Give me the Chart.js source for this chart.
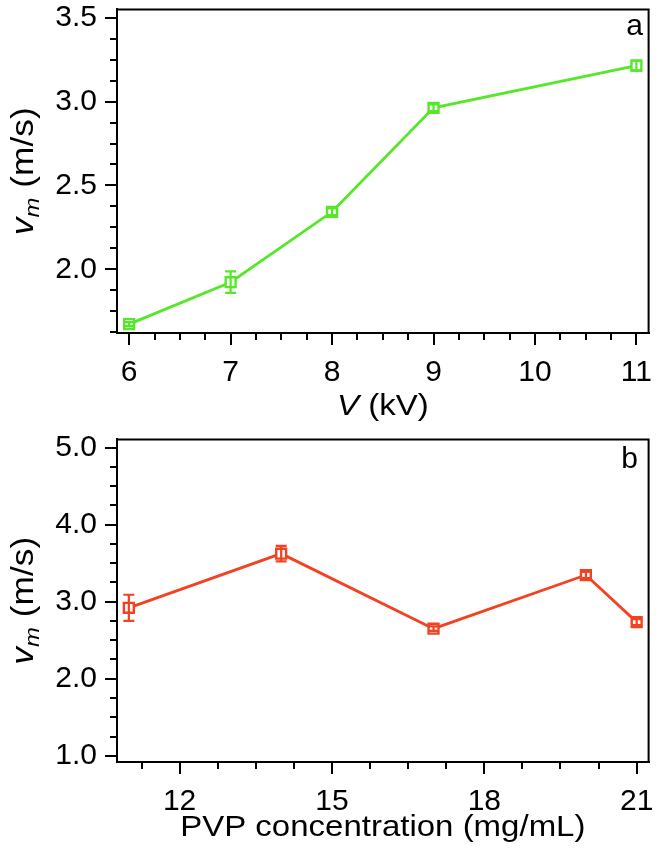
<!DOCTYPE html>
<html>
<head>
<meta charset="utf-8">
<script src="https://cdn.jsdelivr.net/npm/chart.js@4/dist/chart.umd.min.js"></script>
<style>
  html, body { margin: 0; padding: 0; background: #fff; }
  #wrap { position: relative; width: 658px; height: 859px; background: #fff; }
  canvas { position: absolute; left: 0; }
</style>
</head>
<body>
<div id="wrap">
  <canvas id="ca" width="658" height="430" style="top:0"></canvas>
  <canvas id="cb" width="658" height="429" style="top:430px"></canvas>
</div>
<script>
// ---- Panel a data ----
const voltage = [6, 7, 8, 9, 11];
const speedA = [1.673, 1.923, 2.343, 2.963, 3.215];
const errA = [0.012, 0.064, 0.02, 0.02, 0.03];
const xTicksA = [6, 7, 8, 9, 10, 11];
const yTicksA = [2.0, 2.5, 3.0, 3.5];

// ---- Panel b data ----
const pvp = [11, 14, 17, 20, 21];
const speedB = [2.92, 3.624, 2.65, 3.346, 2.735];
const errB = [0.17, 0.10, 0.03, 0.04, 0.04];
const xTicksB = [12, 15, 18, 21];
const yTicksB = [1.0, 2.0, 3.0, 4.0, 5.0];

const FONT = "'Liberation Sans', Arial, sans-serif";
const TICK_FONT_SIZE = 30;
const GREEN = 'rgb(84,232,40)';
const RED = 'rgb(242,66,34)';
const STRETCH = 1.1;

function decoPlugin(o) {
  return {
    id: 'deco_' + o.tag,
    afterDatasetsDraw(chart) {
      const ctx = chart.ctx, xs = chart.scales.x, ys = chart.scales.y;
      ctx.save();
      ctx.strokeStyle = o.color;
      ctx.lineWidth = 2.2;
      o.xs.forEach((xv, i) => {
        const px = xs.getPixelForValue(xv);
        const yTop = ys.getPixelForValue(o.ys[i] + o.err[i]);
        const yBot = ys.getPixelForValue(o.ys[i] - o.err[i]);
        ctx.beginPath();
        ctx.moveTo(px, yTop); ctx.lineTo(px, yBot);
        ctx.moveTo(px - 5.5, yTop); ctx.lineTo(px + 5.5, yTop);
        ctx.moveTo(px - 5.5, yBot); ctx.lineTo(px + 5.5, yBot);
        ctx.stroke();
      });
      ctx.restore();
    },
    afterDraw(chart) {
      const ctx = chart.ctx, a = chart.chartArea, xs = chart.scales.x, ys = chart.scales.y;
      ctx.save();
      ctx.strokeStyle = '#000';
      ctx.lineWidth = 2;
      // top and right frame
      ctx.beginPath();
      ctx.moveTo(a.left, a.top); ctx.lineTo(a.right, a.top); ctx.lineTo(a.right, a.bottom);
      ctx.stroke();
      // minor ticks
      ctx.beginPath();
      for (let v = o.xMinorStart; v <= xs.max + 1e-9; v += o.xMinorStep) {
        if (v < xs.min) continue;
        if (o.xMajor.some(m => Math.abs(m - v) < 1e-6)) continue;
        const px = Math.round(xs.getPixelForValue(v));
        ctx.moveTo(px, a.bottom); ctx.lineTo(px, a.bottom + 7);
      }
      for (let v = o.yMinorStart; v <= ys.max + 1e-9; v += o.yMinorStep) {
        if (v < ys.min) continue;
        if (o.yMajor.some(m => Math.abs(m - v) < 1e-6)) continue;
        const py = Math.round(ys.getPixelForValue(v));
        ctx.moveTo(a.left, py); ctx.lineTo(a.left - 7, py);
      }
      ctx.stroke();
      // panel letter
      ctx.fillStyle = '#000';
      ctx.font = '30px ' + FONT;
      ctx.textAlign = 'right';
      ctx.textBaseline = 'alphabetic';
      ctx.fillText(o.letter, o.letterX, o.letterY);
      ctx.restore();

      // x title (slightly widened like the reference lettering)
      ctx.save();
      ctx.fillStyle = '#000';
      ctx.textBaseline = 'middle';
      ctx.textAlign = 'left';
      const cx = (a.left + a.right) / 2;
      ctx.translate(cx, o.xTitleY);
      ctx.scale(STRETCH, 1);
      ctx.font = 'italic 30px ' + FONT;
      const w1 = o.xTitleItalic ? ctx.measureText(o.xTitleItalic).width : 0;
      ctx.font = '30px ' + FONT;
      const w2 = ctx.measureText(o.xTitleRest).width;
      const sx = -(w1 + w2) / 2;
      if (o.xTitleItalic) {
        ctx.font = 'italic 30px ' + FONT;
        ctx.fillText(o.xTitleItalic, sx, 0);
      }
      ctx.font = '30px ' + FONT;
      ctx.fillText(o.xTitleRest, sx + w1, 0);
      ctx.restore();

      // y title: v_m (m/s)
      ctx.save();
      ctx.fillStyle = '#000';
      ctx.translate(22, (a.top + a.bottom) / 2);
      ctx.rotate(-Math.PI / 2);
      ctx.scale(1.14, 1);
      ctx.textAlign = 'left';
      ctx.textBaseline = 'alphabetic';
      ctx.font = 'italic 31px ' + FONT;
      const wv = ctx.measureText('v').width;
      ctx.font = 'italic 21px ' + FONT;
      const wm = ctx.measureText('m').width;
      ctx.font = '31px ' + FONT;
      const wr = ctx.measureText(' (m/s)').width;
      const s = -(wv + wm + wr) / 2;
      const base = 11;
      ctx.font = 'italic 31px ' + FONT;
      ctx.fillText('v', s, base);
      ctx.font = 'italic 21px ' + FONT;
      ctx.fillText('m', s + wv, base + 6);
      ctx.font = '31px ' + FONT;
      ctx.fillText(' (m/s)', s + wv + wm, base);
      ctx.restore();
    }
  };
}

function makeChart(id, o) {
  return new Chart(document.getElementById(id), {
    type: 'scatter',
    data: {
      datasets: [{
        data: o.xs.map((x, i) => ({ x: x, y: o.ys[i] })),
        showLine: true,
        borderColor: o.color,
        borderWidth: 2.8,
        tension: 0,
        pointStyle: 'rect',
        pointRadius: 7,
        pointBorderWidth: 2.4,
        pointBackgroundColor: '#fff',
        pointBorderColor: o.color
      }]
    },
    options: {
      responsive: false,
      animation: false,
      devicePixelRatio: 1,
      layout: { padding: { top: 7, right: 6, left: 0, bottom: 0 } },
      plugins: { legend: { display: false }, tooltip: { enabled: false } },
      scales: {
        x: {
          type: 'linear',
          min: o.xMin, max: o.xMax,
          afterBuildTicks: s => { s.ticks = o.xMajor.map(v => ({ value: v })); },
          afterFit: s => { s.height = 97; s.paddingLeft = 0; s.paddingRight = 0; },
          ticks: {
            font: { family: FONT, size: TICK_FONT_SIZE },
            color: '#000', padding: 10, maxRotation: 0, autoSkip: false,
            callback: v => String(v)
          },
          grid: { drawOnChartArea: false, drawTicks: true, tickLength: 12, lineWidth: 2, color: '#000' },
          border: { display: true, color: '#000', width: 2 }
        },
        y: {
          type: 'linear',
          min: o.yMin, max: o.yMax,
          afterBuildTicks: s => { s.ticks = o.yMajor.map(v => ({ value: v })); },
          afterFit: s => { s.width = 117; s.paddingTop = 0; s.paddingBottom = 0; },
          ticks: {
            font: { family: FONT, size: TICK_FONT_SIZE },
            color: '#000', padding: 8, autoSkip: false,
            callback: v => Number(v).toFixed(1)
          },
          grid: { drawOnChartArea: false, drawTicks: true, tickLength: 12, lineWidth: 2, color: '#000' },
          border: { display: true, color: '#000', width: 2 }
        }
      }
    },
    plugins: [decoPlugin(o)]
  });
}

makeChart('ca', {
  tag: 'a', xs: voltage, ys: speedA, err: errA, color: GREEN,
  xMin: 5.88, xMax: 11.12, yMin: 1.62, yMax: 3.55,
  xMajor: xTicksA, yMajor: yTicksA,
  xMinorStart: 6, xMinorStep: 0.25, yMinorStart: 1.625, yMinorStep: 0.125,
  letter: 'a', letterX: 643, letterY: 35,
  xTitleItalic: 'V', xTitleRest: ' (kV)', xTitleY: 407
});

makeChart('cb', {
  tag: 'b', xs: pvp, ys: speedB, err: errB, color: RED,
  xMin: 10.767, xMax: 21.235, yMin: 0.919, yMax: 5.107,
  xMajor: xTicksB, yMajor: yTicksB,
  xMinorStart: 11.25, xMinorStep: 0.75, yMinorStart: 1.0, yMinorStep: 0.25,
  letter: 'b', letterX: 638, letterY: 38,
  xTitleItalic: '', xTitleRest: 'PVP concentration (mg/mL)', xTitleY: 398
});
</script>
</body>
</html>
